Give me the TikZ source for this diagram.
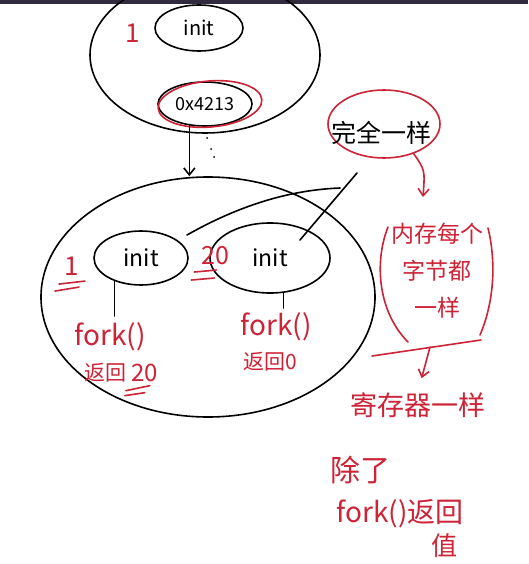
\documentclass[tikz,border=0pt]{standalone}
\usepackage{fontspec}
\usepackage{tikz}
\usetikzlibrary{shapes.geometric,arrows.meta,positioning}
\setmainfont{Noto Sans CJK SC}
\definecolor{redink}{RGB}{205,35,55}
\definecolor{topbar}{RGB}{50,42,62}
\newcommand{\handsize}[1]{\fontsize{#1pt}{#1pt}\selectfont}

\begin{document}
\begin{tikzpicture}[x=1pt,y=-1pt,line width=1.6pt,line cap=round,
	proc/.style={draw,ellipse,inner sep=0pt},
	rednote/.style={text=redink,inner sep=0pt},
	tip/.style={-{Straight Barb[length=7pt,width=11pt]}}]
	\clip (0,0) rectangle (528,564);
	\fill[white] (0,0) rectangle (528,564);
	\fill[topbar] (0,0) rectangle (528,4);
	
	% parent process
	\node[proc,minimum width=230pt,minimum height=156pt] (parent) at (205,55) {};
	\node[proc,minimum width=88pt,minimum height=46pt,font=\handsize{20}] (pinit) at (199,28) {init};
	\node[rednote,font=\handsize{26}] (pone) at (133,33) {1};
	\node[proc,minimum width=94pt,minimum height=44pt,font=\handsize{18}] (addr) at (205,104) {0x4213};
	\draw[redink,rotate around={5:(210,104)}] (210,104) ellipse [x radius=52,y radius=23];
	\fill (207,138) circle (1) (211,149) circle (1) (214,157) circle (1);
	
	% child process
	\node[proc,minimum width=334pt,minimum height=240pt] (child) at (208,297) {};
	\draw[tip] (addr.-126) -- (addr.-126 |- child.north);
	\node[proc,minimum width=94pt,minimum height=54pt,font=\handsize{23}] (linit) at (141,258) {init};
	\node[proc,minimum width=120pt,minimum height=70pt,font=\handsize{23}] (rinit) at (270,258) {init};
	
	\node[rednote,font=\handsize{26}] (cone) at (72,266) {1};
	\draw[redink] (cone.south west) ++(-5,8) -- ++(26,-3) ++(-30,10) -- ++(24,-4);
	\node[rednote,font=\handsize{25}] (ctwenty) at (215,256) {20};
	\draw[redink] (ctwenty.south west) ++(-6,6) -- ++(22,-2) ++(-25,10) -- ++(23,-2);
	
	\node[rednote,font=\handsize{28}] (lfork) at (110,337) {fork()};
	\node[rednote,font=\handsize{21}] (lret) at (105,373) {返回};
	\node[rednote,font=\handsize{24},right=4pt of lret] (lretnum) {20};
	\draw[redink] (lretnum.south west) ++(-5,8) -- ++(24,-5) ++(-25,10) -- ++(20,-3);
	\draw[shorten >=6pt] (linit.-139) -- (linit.-139 |- lfork.north);
	
	\node[rednote,font=\handsize{28}] (rfork) at (276,327) {fork()};
	\node[rednote,font=\handsize{21}] (rret) at (270,362) {返回0};
	\draw[shorten >=4pt] (rinit.-69) -- (rinit.-69 |- rfork.north);
	
	% same
	\node[draw=redink,ellipse,minimum width=112pt,minimum height=68pt,inner sep=0pt] (same) at (384,124) {};
	\node[font=\handsize{25}] (sametext) at (381,133) {完全一样};
	\coordinate (sA) at (187,235);
	\coordinate (eA) at (340,188);
	\coordinate (sB) at (300,240);
	\coordinate (eB) at (357,173);
	\draw (sA) .. controls (240,205) and (290,190) .. (eA);
	\draw (sB) -- (eB);
	
	\coordinate (memtop) at (423,197);
	\draw[redink,tip] (same.-45) .. controls (425,170) .. (memtop);
	\node[rednote,align=center,font=\fontsize{23pt}{37pt}\selectfont] (mem) at (437,271) {内存每个\\字节都\\一样};
	\draw[redink] (388,227) .. controls (374,262) and (378,312) .. (408,342);
	\draw[redink] (488,228) .. controls (497,265) and (493,305) .. (480,335);
	\draw[redink] (372,356) -- (481,340);
	\coordinate (barmid) at (430,347);
	
	\node[rednote,font=\handsize{27}] (regs) at (418,405) {寄存器一样};
	\draw[redink,tip,shorten >=14pt] (barmid) -- (regs.north);
	
	\node[rednote,font=\handsize{30}] (except) at (360,470) {除了};
	\node[rednote,font=\handsize{28}] (forkval) at (400,514) {fork()返回};
	\node[rednote,font=\handsize{26}] (val) at (444,546) {值};
\end{tikzpicture}
\end{document}
